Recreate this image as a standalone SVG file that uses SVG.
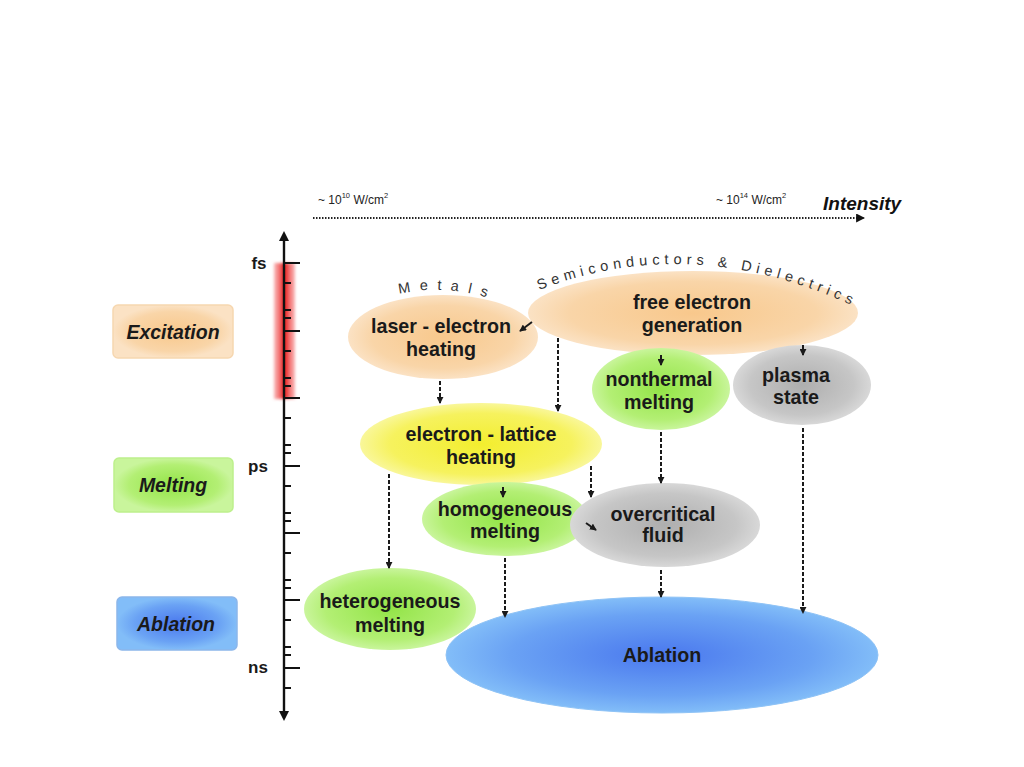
<svg xmlns="http://www.w3.org/2000/svg" width="1024" height="767" viewBox="0 0 1024 767">
<style>
.lbl{font-family:"Liberation Sans",Arial,sans-serif;font-weight:bold;font-size:19.7px;fill:#1a1a1a;text-anchor:middle}
.stage{font-family:"Liberation Sans",Arial,sans-serif;font-weight:bold;font-style:italic;font-size:19.5px;fill:#1a1a1a;text-anchor:middle}
.ax{font-family:"Liberation Sans",Arial,sans-serif;font-weight:bold;font-size:17px;fill:#1a1a1a;text-anchor:middle}
.small{font-family:"Liberation Sans",Arial,sans-serif;font-size:12px;fill:#222}
.arc{font-family:"Liberation Sans",Arial,sans-serif;font-size:14.5px;fill:#333}
.conn{stroke:#1a1a1a;stroke-width:2;stroke-dasharray:4 2;fill:none;marker-end:url(#ah)}
.solid{stroke-dasharray:none}
.tick{stroke:#111;stroke-width:2}
</style>
<defs>
<marker id="ah" viewBox="0 0 8 8" refX="7" refY="4" markerWidth="7" markerHeight="7" markerUnits="userSpaceOnUse" orient="auto"><path d="M0,0 L8,4 L0,8 z" fill="#1a1a1a"/></marker>
<marker id="ahi" viewBox="0 0 8 8" refX="7" refY="4" markerWidth="9" markerHeight="9" markerUnits="userSpaceOnUse" orient="auto"><path d="M0,0 L8,4 L0,8 z" fill="#111"/></marker>
<marker id="axa" viewBox="0 0 10 10" refX="5" refY="5" markerWidth="10" markerHeight="12" markerUnits="userSpaceOnUse" orient="auto"><path d="M0,0 L10,5 L0,10 z" fill="#111"/></marker>
<radialGradient id="gPeach" cx="50%" cy="50%" r="50%"><stop offset="0" stop-color="#f8c88c"/><stop offset="0.75" stop-color="#f9d5a8"/><stop offset="1" stop-color="#fbe2c4"/></radialGradient>
<radialGradient id="gGreen" cx="50%" cy="50%" r="50%"><stop offset="0" stop-color="#93e448"/><stop offset="0.75" stop-color="#b3ef74"/><stop offset="1" stop-color="#c9f59c"/></radialGradient>
<radialGradient id="gGray" cx="50%" cy="50%" r="50%"><stop offset="0" stop-color="#aeaeae"/><stop offset="0.75" stop-color="#c6c6c6"/><stop offset="1" stop-color="#d8d8d8"/></radialGradient>
<radialGradient id="gYellow" cx="50%" cy="50%" r="50%"><stop offset="0" stop-color="#f3ee2e"/><stop offset="0.75" stop-color="#f6f25e"/><stop offset="1" stop-color="#f9f79a"/></radialGradient>
<radialGradient id="gBlue" cx="50%" cy="50%" r="50%"><stop offset="0" stop-color="#4a78ee"/><stop offset="0.7" stop-color="#6aa2f4"/><stop offset="1" stop-color="#82bdf8"/></radialGradient>
<linearGradient id="gRed" x1="0" y1="0" x2="1" y2="0"><stop offset="0" stop-color="#f47070" stop-opacity="0.5"/><stop offset="0.5" stop-color="#e81818"/><stop offset="1" stop-color="#f47070" stop-opacity="0.5"/></linearGradient>
<filter id="soft" x="-20%" y="-10%" width="140%" height="120%"><feGaussianBlur stdDeviation="1.8"/></filter>
<path id="pSemi" d="M539,290 Q698,228 870,314"/>
<path id="pMet" d="M399,294 Q446,283 498,301"/>
</defs>

<rect width="1024" height="767" fill="#ffffff"/>

<!-- intensity axis -->
<g id="intensity">
<line x1="313" y1="218" x2="864" y2="218" stroke="#222" stroke-width="2" stroke-dasharray="1.5 1.5" marker-end="url(#ahi)"/>
<text class="small" x="318" y="204">~ 10<tspan dy="-6" font-size="7.5">10</tspan><tspan dy="6"> W/cm</tspan><tspan dy="-6" font-size="7.5">2</tspan></text>
<text class="small" x="716" y="204">~ 10<tspan dy="-6" font-size="7.5">14</tspan><tspan dy="6"> W/cm</tspan><tspan dy="-6" font-size="7.5">2</tspan></text>
<text x="823" y="210" font-family="Liberation Sans,Arial,sans-serif" font-weight="bold" font-style="italic" font-size="19" fill="#111">Intensity</text>
</g>

<!-- time axis -->
<g id="timeaxis">
<rect x="274" y="263" width="21" height="136" fill="url(#gRed)" filter="url(#soft)"/>
<line x1="284" y1="718" x2="284" y2="236" stroke="#111" stroke-width="2.2" marker-end="url(#axa)"/>
<line x1="284" y1="240" x2="284" y2="716" stroke="#111" stroke-width="2.2" marker-end="url(#axa)"/>
<g class="tick">
<line x1="284" y1="263" x2="300" y2="263"/><line x1="284" y1="331" x2="300" y2="331"/><line x1="284" y1="398" x2="300" y2="398"/><line x1="284" y1="466" x2="300" y2="466"/><line x1="284" y1="533" x2="300" y2="533"/><line x1="284" y1="600" x2="300" y2="600"/><line x1="284" y1="668" x2="300" y2="668"/>
<line x1="284" y1="283" x2="291" y2="283"/><line x1="284" y1="310" x2="291" y2="310"/><line x1="284" y1="318" x2="291" y2="318"/>
<line x1="284" y1="351" x2="291" y2="351"/><line x1="284" y1="378" x2="291" y2="378"/><line x1="284" y1="386" x2="291" y2="386"/>
<line x1="284" y1="418" x2="291" y2="418"/><line x1="284" y1="445" x2="291" y2="445"/><line x1="284" y1="453" x2="291" y2="453"/>
<line x1="284" y1="486" x2="291" y2="486"/><line x1="284" y1="513" x2="291" y2="513"/><line x1="284" y1="521" x2="291" y2="521"/>
<line x1="284" y1="553" x2="291" y2="553"/><line x1="284" y1="580" x2="291" y2="580"/><line x1="284" y1="588" x2="291" y2="588"/>
<line x1="284" y1="620" x2="291" y2="620"/><line x1="284" y1="647" x2="291" y2="647"/><line x1="284" y1="655" x2="291" y2="655"/>
<line x1="284" y1="688" x2="291" y2="688"/>
</g>
<text class="ax" x="259" y="269">fs</text>
<text class="ax" x="258" y="472">ps</text>
<text class="ax" x="258" y="673">ns</text>
</g>

<!-- stage boxes -->
<g id="excitation"><rect x="113" y="305" width="120" height="53" rx="5" fill="url(#gPeach)" stroke="#f6d7b0" stroke-width="1.5"/><text class="stage" x="173" y="339">Excitation</text></g>
<g id="melting"><rect x="114" y="458" width="119" height="54" rx="5" fill="url(#gGreen)" stroke="#bdf08c" stroke-width="1.5"/><text class="stage" x="173" y="492">Melting</text></g>
<g id="ablation-stage"><rect x="117" y="597" width="120" height="53" rx="5" fill="url(#gBlue)" stroke="#8cb6ea" stroke-width="1.5"/><text class="stage" x="176" y="631">Ablation</text></g>

<!-- nodes -->
<g id="laser-electron"><ellipse cx="443" cy="337" rx="95" ry="42" fill="url(#gPeach)"/><text class="lbl" x="441" y="333">laser - electron</text><text class="lbl" x="441" y="356">heating</text></g>
<g id="free-electron"><ellipse cx="693" cy="313" rx="165" ry="42" fill="url(#gPeach)"/><text class="lbl" x="692" y="309">free electron</text><text class="lbl" x="692" y="332">generation</text></g>
<g id="nonthermal"><ellipse cx="661" cy="389" rx="69" ry="41" fill="url(#gGreen)"/><text class="lbl" x="659" y="386">nonthermal</text><text class="lbl" x="659" y="409">melting</text></g>
<g id="plasma"><ellipse cx="802" cy="385" rx="69" ry="40" fill="url(#gGray)"/><text class="lbl" x="796" y="382">plasma</text><text class="lbl" x="796" y="404">state</text></g>
<g id="electron-lattice"><ellipse cx="481" cy="444" rx="121" ry="41" fill="url(#gYellow)"/><text class="lbl" x="481" y="441">electron - lattice</text><text class="lbl" x="481" y="464">heating</text></g>
<g id="homogeneous"><ellipse cx="505" cy="519" rx="83" ry="37" fill="url(#gGreen)"/><text class="lbl" x="505" y="516">homogeneous</text><text class="lbl" x="505" y="538">melting</text></g>
<g id="overcritical"><ellipse cx="665" cy="525" rx="95" ry="42" fill="url(#gGray)"/><text class="lbl" x="663" y="521">overcritical</text><text class="lbl" x="663" y="542">fluid</text></g>
<g id="ablation"><ellipse cx="662" cy="655" rx="216" ry="58" fill="url(#gBlue)" stroke="#8fc3f6" stroke-width="1"/><text class="lbl" x="662" y="662">Ablation</text></g>
<g id="heterogeneous"><ellipse cx="390" cy="609" rx="86" ry="41" fill="url(#gGreen)"/><text class="lbl" x="390" y="608">heterogeneous</text><text class="lbl" x="390" y="632">melting</text></g>

<!-- group labels -->
<g id="group-labels">
<text class="arc" letter-spacing="4.9"><textPath href="#pSemi">Semiconductors &amp; Dielectrics</textPath></text>
<text class="arc" letter-spacing="9.2" font-size="13.5"><textPath href="#pMet">Metals</textPath></text>
</g>

<!-- connectors -->
<g id="connectors">
<line class="conn" x1="440" y1="381" x2="440" y2="403"/>
<line class="conn solid" x1="532" y1="322" x2="520" y2="331"/>
<line class="conn" x1="558" y1="338" x2="558" y2="411"/>
<line class="conn solid" x1="661" y1="355" x2="661" y2="365"/>
<line class="conn solid" x1="803" y1="345" x2="803" y2="355"/>
<line class="conn" x1="661" y1="432" x2="661" y2="483"/>
<line class="conn solid" x1="503" y1="487" x2="503" y2="497"/>
<line class="conn" x1="591" y1="466" x2="591" y2="497"/>
<line class="conn" x1="389" y1="474" x2="389" y2="568"/>
<line class="conn solid" x1="586" y1="523" x2="596" y2="530"/>
<line class="conn" x1="505" y1="558" x2="505" y2="617"/>
<line class="conn" x1="661" y1="570" x2="661" y2="597"/>
<line class="conn" x1="803" y1="428" x2="803" y2="613"/>
</g>
</svg>
